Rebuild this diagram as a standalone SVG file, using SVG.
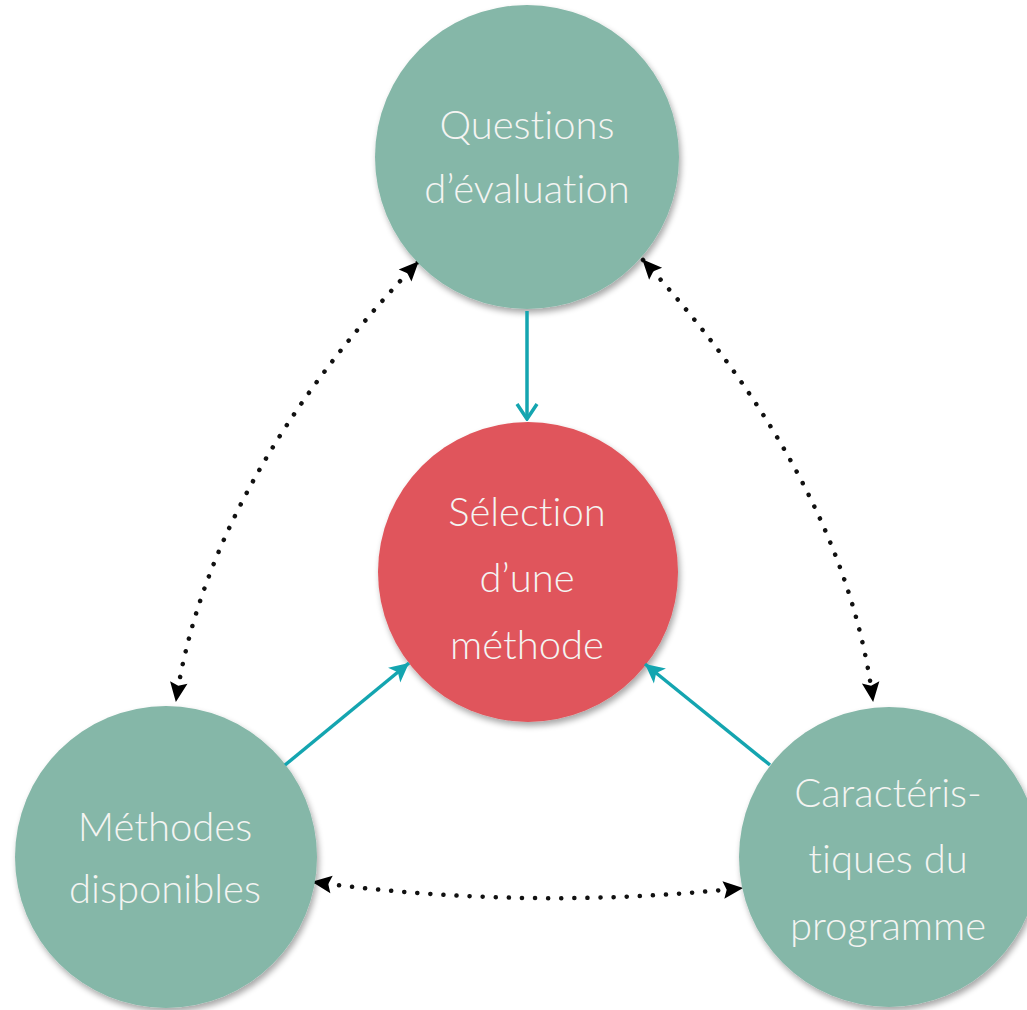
<svg xmlns="http://www.w3.org/2000/svg" width="1027" height="1010" viewBox="0 0 1027 1010">
<defs>
<style>
.teal{fill:#85B7A8;}
.red{fill:#E0555B;}
.lbl{font-family:Lato,"Open Sans","Liberation Sans",sans-serif;font-weight:300;font-size:40px;fill:#F4F4F2;text-anchor:middle;font-variant-ligatures:none;font-feature-settings:"liga" 0,"dlig" 0;}
.solid{fill:none;stroke:#14A5B0;stroke-width:3.5;}
.dot{fill:none;stroke:#111;stroke-width:4.5;stroke-linecap:round;stroke-dasharray:0.1 13;}
</style>
<filter id="sh" x="-10%" y="-10%" width="125%" height="125%">
<feGaussianBlur in="SourceAlpha" stdDeviation="3"/>
<feOffset dx="2" dy="4" result="b"/>
<feComponentTransfer><feFuncA type="linear" slope="0.35"/></feComponentTransfer>
<feMerge><feMergeNode/><feMergeNode in="SourceGraphic"/></feMerge>
</filter>
<marker id="tealhead" viewBox="0 0 20 20" refX="18" refY="10" markerWidth="24" markerHeight="24" markerUnits="userSpaceOnUse" orient="auto">
<path d="M2,2 L18,10 L2,18 L6,10 Z" fill="#14A5B0"/>
</marker>
<marker id="chev" viewBox="0 0 20 24" refX="18" refY="12" markerWidth="20" markerHeight="24" markerUnits="userSpaceOnUse" orient="auto">
<path d="M3,2 L18,12 L3,22" fill="none" stroke="#14A5B0" stroke-width="3.5"/>
</marker>
<marker id="blk" viewBox="0 0 20 20" refX="18" refY="10" markerWidth="22" markerHeight="22" markerUnits="userSpaceOnUse" orient="auto-start-reverse">
<path d="M1,2 L19,10 L1,18 L4,10 Z" fill="#000"/>
</marker>
</defs>
<rect width="1027" height="1010" fill="#FFFFFF"/>

<g id="connectors">
<path class="dot" d="M418,262 Q209,481 176,701" marker-start="url(#blk)" marker-end="url(#blk)"/>
<path class="dot" d="M643,260 Q845,481 873,701" marker-start="url(#blk)" marker-end="url(#blk)"/>
<path class="dot" d="M313,882 Q529,911 742,888" marker-start="url(#blk)" marker-end="url(#blk)"/>
</g>

<g id="node-questions">
<circle class="teal" cx="527" cy="157" r="152" filter="url(#sh)"/>
<text class="lbl" x="527" y="139">Questions</text>
<text class="lbl" x="527" y="203">d’évaluation</text>
</g>

<g id="node-selection">
<circle class="red" cx="528" cy="572" r="150" filter="url(#sh)"/>
<text class="lbl" x="527" y="526">Sélection</text>
<text class="lbl" x="527" y="592">d’une</text>
<text class="lbl" x="527" y="659">méthode</text>
</g>

<g id="node-methodes">
<circle class="teal" cx="166" cy="857" r="151" filter="url(#sh)"/>
<text class="lbl" x="165" y="841">Méthodes</text>
<text class="lbl" x="165" y="903">disponibles</text>
</g>

<g id="node-caracteristiques">
<circle class="teal" cx="889" cy="857" r="150" filter="url(#sh)"/>
<text class="lbl" x="888" y="807">Caractéris-</text>
<text class="lbl" x="888" y="873">tiques du</text>
<text class="lbl" x="888" y="940">programme</text>
</g>

<g id="connectors-solid">
<path class="solid" d="M527,311 L527,419" marker-end="url(#chev)"/>
<path class="solid" d="M285,765 L409,663" marker-end="url(#tealhead)"/>
<path class="solid" d="M770,765 L645,664" marker-end="url(#tealhead)"/>
</g>
</svg>
